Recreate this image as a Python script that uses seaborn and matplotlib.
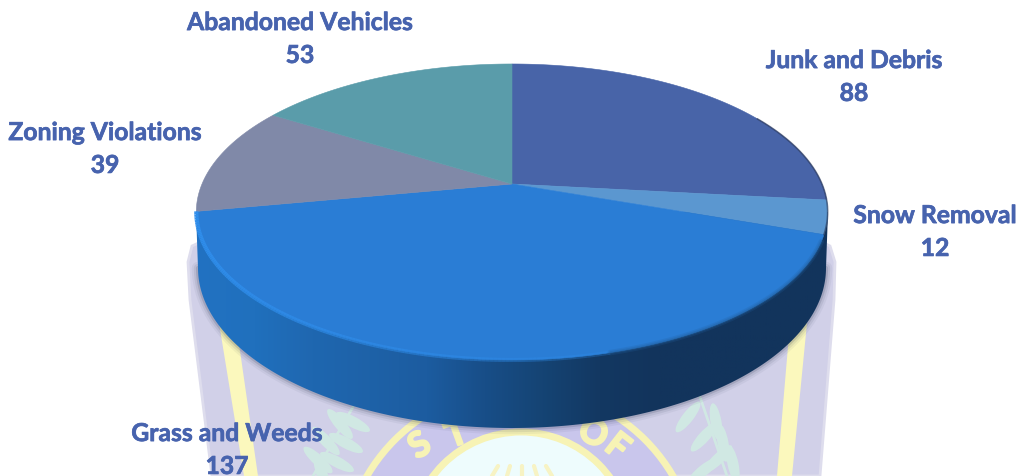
import numpy as np
import matplotlib
matplotlib.use("Agg")
import matplotlib.pyplot as plt
import matplotlib.patheffects as pe
from matplotlib.collections import LineCollection
from matplotlib.colors import ListedColormap
from matplotlib.patches import Circle, Ellipse, Polygon
import seaborn as sns

categories = ["Junk and Debris", "Snow Removal", "Grass and Weeds",
              "Zoning Violations", "Abandoned Vehicles"]
counts = [88, 12, 137, 39, 53]
slice_colors = ["#4864a8", "#5b97d0", "#2a7dd5", "#8089a8", "#5a9caa"]
label_centers = [(854, 77), (935, 232), (227, 450), (105, 149), (300, 39)]

LABEL_COLOR = "#4763ae"
APEX = (512, 184)
TILT = 0.189
RADIUS_X, RADIUS_Y = 310, 142.7

sns.set_theme(style="white")
plt.rcParams["font.family"] = ["Lato", "DejaVu Sans"]

fig = plt.figure(figsize=(10.21, 4.76), dpi=100, facecolor="white")
ax = fig.add_axes([0, 0, 1, 1])
ax.set_xlim(0, 1021)
ax.set_ylim(476, 0)
ax.axis("off")


def disc_point(theta):
    """Project a clockwise angle on the tilted disc to canvas coordinates."""
    theta = np.asarray(theta, dtype=float)
    u, v = np.sin(theta), np.cos(theta)
    w = 1 + TILT * v
    return APEX[0] + RADIUS_X * u / w, APEX[1] - RADIUS_Y * v / w


def arc(start, stop, n=160):
    return np.column_stack(disc_point(np.linspace(start, stop, n)))


# Faded seal printed behind the chart
shield = [(188, 262), (192, 246), (205, 240), (818, 240), (830, 246), (835, 262),
          (834, 300), (820, 476), (212, 476), (190, 300)]
ax.add_patch(Polygon(shield, closed=True, fc="#d1d0e8", ec="#dedded", lw=2, zorder=1))
ax.add_patch(Polygon([(219, 323), (236, 323), (258, 476), (244, 476)], fc="#fbf8bd", ec="none", zorder=2))
ax.add_patch(Polygon([(790, 323), (807, 323), (792, 476), (777, 476)], fc="#fbf8bd", ec="none", zorder=2))

leaf_color = "#d0e8e3"
left_leaves = [(340, 424, 50), (326, 441, 46), (318, 460, 42), (353, 422, 28), (346, 443, 28),
               (337, 462, 28), (322, 474, 70)]
right_leaves = [(688, 417, -52), (704, 437, -48), (718, 459, -44), (716, 422, 80), (723, 443, 80),
                (733, 464, 78), (704, 470, -38)]
for x, y, angle in left_leaves + right_leaves:
    ax.add_patch(Ellipse((x, y), 38, 11, angle=angle, fc=leaf_color, ec="none", zorder=2))
ax.plot([313, 353], [476, 407], color=leaf_color, lw=2, zorder=2)
ax.plot([727, 700], [476, 397], color=leaf_color, lw=2, zorder=2)

ax.add_patch(Circle((520, 565), 177, fc="#c9c6ec", ec="#f7f3b5", lw=5, zorder=3))
ax.add_patch(Circle((521, 542), 110, fc="#eefcfd", ec="#f7f3b5", lw=5, zorder=4))
for x0, x1 in [(498, 492), (510, 507), (522, 522), (534, 537), (546, 552)]:
    ax.plot([x0, x1], [466, 476], color="#f7f3c4", lw=3, zorder=5)
for ch, x, y, rot in [("S", 420, 446, 32), ("T", 457, 435, 20), ("O", 593, 434, -25), ("F", 617, 447, -38)]:
    ax.text(x, y, ch, color="#f7f3b5", fontsize=25, fontweight="bold", rotation=rot,
            rotation_mode="anchor", ha="center", va="center", zorder=5,
            path_effects=[pe.withStroke(linewidth=1.6, foreground="#f7f3b5")])

# Drop shadow and extruded rim of the disc
bottom_t = np.linspace(0, np.pi, 200)
bottom_x = 512 - 314 * np.cos(bottom_t)
bottom_y = 268 + 160 * np.sin(bottom_t)
for width, alpha in [(9, 0.05), (6, 0.08), (3, 0.14)]:
    ax.plot(bottom_x, bottom_y, color="#1a2440", lw=width, alpha=alpha, zorder=6,
            solid_capstyle="round")

rim_outline = np.vstack([[(196, 212)], np.column_stack([bottom_x, bottom_y]), [(828, 212)]])
rim_patch = Polygon(rim_outline, closed=True, fc="none", ec="none", zorder=7)
ax.add_patch(rim_patch)
rim_stops = ["#2272c2", "#2070bd", "#1f67b0", "#1e62a8", "#1c5ca0", "#184e88",
             "#154474", "#133862", "#12345c", "#12345c", "#12345c", "#12345c"]
rim_map = ListedColormap(sns.blend_palette(rim_stops, n_colors=256))
rim_image = ax.imshow(np.linspace(0, 1, 256)[None, :], cmap=rim_map, extent=(196, 830, 476, 200),
                      aspect="auto", zorder=7)
rim_image.set_clip_path(rim_patch)
ax.set_xlim(0, 1021)
ax.set_ylim(476, 0)

# Pie slices on the top face, clockwise from twelve o'clock
palette = sns.color_palette(slice_colors)
edges = np.concatenate([[0], np.cumsum(counts)]) / np.sum(counts) * 2 * np.pi
for start, stop, color in zip(edges[:-1], edges[1:], palette):
    outline = np.vstack([[APEX], arc(start, stop)])
    ax.add_patch(Polygon(outline, closed=True, fc=color, ec=color, lw=0.4, zorder=8))

# Bevel: a bright lip on the left, a soft blend on the shaded right
lip = arc(edges[3], np.radians(165), 160)
lip_segments = np.stack([lip[:-1], lip[1:]], axis=1)
lip_alpha = np.linspace(1, 0.25, len(lip_segments))
lip_colors = [(0.19, 0.56, 0.93, a) for a in lip_alpha]
ax.add_collection(LineCollection(lip_segments, colors=lip_colors, linewidths=3, zorder=9))
for width, alpha in [(4, 0.22), (2, 0.35)]:
    ax.plot(*arc(np.radians(112), np.radians(165)).T, color="#22609f", lw=width, alpha=alpha, zorder=9)
ax.plot(*arc(np.radians(60), edges[2]).T, color="#232f4c", lw=1.2, alpha=0.55, zorder=9)

# Category names with their counts beneath
for name, value, (x, y) in zip(categories, counts, label_centers):
    ax.text(x, y, f"{name}\n{value}", color=LABEL_COLOR, fontsize=17.8, fontweight="bold",
            ha="center", va="center", linespacing=1.52, zorder=10,
            path_effects=[pe.withStroke(linewidth=0.5, foreground=LABEL_COLOR)])

fig.savefig("out.png", dpi=100, facecolor="white")
